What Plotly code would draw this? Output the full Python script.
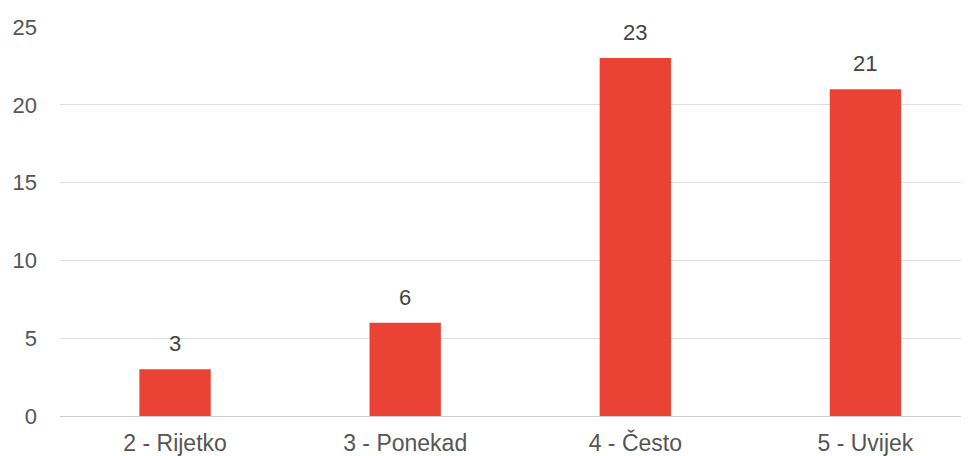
import plotly.graph_objects as go

categories = ["2 - Rijetko", "3 - Ponekad", "4 - Često", "5 - Uvijek"]
values = [3, 6, 23, 21]
y_ticks = [0, 5, 10, 15, 20, 25]

FONT = "Liberation Sans, Arial, sans-serif"

fig = go.Figure(go.Bar(
    x=categories, y=values,
    marker=dict(color="#EA4335", line=dict(width=0)),
    width=0.31,
    hoverinfo="x+y",
))

for c, v in zip(categories, values):
    fig.add_annotation(
        x=c, y=v, text=str(v), showarrow=False,
        yanchor="bottom", yshift=11,
        font=dict(family=FONT, size=22, color="#444444"),
    )

fig.update_layout(
    width=969, height=456,
    margin=dict(l=52, r=8, t=19, b=48),
    paper_bgcolor="white", plot_bgcolor="white",
    font=dict(family=FONT, size=22, color="#555555"),
    showlegend=False,
)
fig.update_xaxes(
    range=[-0.5, 3.45], showgrid=False, showline=False, zeroline=False,
    tickfont=dict(size=23, color="#555555"), ticks="", ticklabelstandoff=11,
    automargin=False,
)
fig.update_yaxes(
    range=[0, 25], tickvals=y_ticks, showgrid=True, gridcolor="#dedede", gridwidth=1,
    zeroline=True, zerolinecolor="#cccccc", zerolinewidth=1, showline=False,
    tickfont=dict(size=22, color="#555555"), ticks="", ticklabelstandoff=22,
    automargin=False,
)

fig.write_html("out.html")
